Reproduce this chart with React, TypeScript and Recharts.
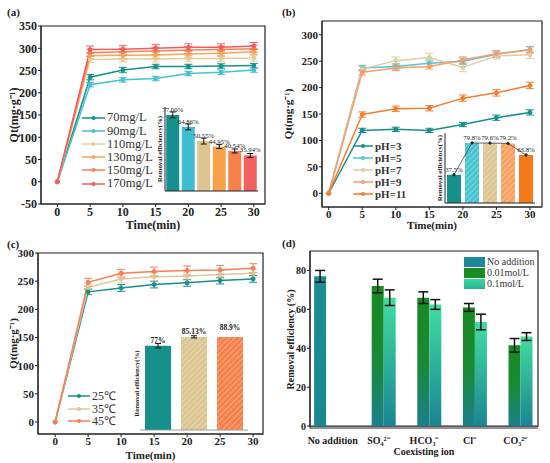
import React from 'react';
import {
  LineChart, Line, XAxis, YAxis, ErrorBar, ReferenceArea,
  BarChart, Bar, ComposedChart, LabelList, Cell,
} from 'recharts';

const FONT = '"Liberation Serif", "Times New Roman", serif';
const INK = '#222';

// shared time axis (min)
const timeMin = [0, 5, 10, 15, 20, 25, 30];
const timeTicks = [0, 5, 10, 15, 20, 25, 30];

// (a) initial concentration
const concNames = ['70mg/L', '90mg/L', '110mg/L', '130mg/L', '150mg/L', '170mg/L'];
const concColors = ['#15918a', '#46c1cf', '#e4cb9b', '#f8a652', '#f78157', '#f25c5e'];
const qt70 = [0, 235, 251, 259, 259, 260, 261];
const qt90 = [0, 218, 229, 232, 243, 246, 251];
const qt110 = [0, 275, 276, 276, 277, 277, 278];
const qt130 = [0, 283, 284, 285, 287, 289, 292];
const qt150 = [0, 290, 292, 294, 296, 297, 299];
const qt170 = [0, 297, 298, 300, 302, 302, 305];
const err70 = [0, 6, 6, 5, 5, 5, 5];
const err90 = [0, 5, 5, 5, 5, 5, 5];
const err110 = [0, 7, 7, 7, 7, 7, 7];
const err130 = [0, 7, 7, 7, 7, 7, 7];
const err150 = [0, 8, 8, 8, 8, 8, 8];
const err170 = [0, 8, 8, 8, 8, 8, 8];
const concRemoval = [77.0, 64.86, 50.55, 44.95, 40.54, 35.94];
const concRemovalErr = [3, 3, 3, 2, 2, 2];
const concRemovalLabels = ['77.00%', '64.86%', '50.55%', '44.95%', '40.54%', '35.94%'];
const concBarColors = ['#16908f', '#3fbdd0', '#dcc591', '#f8a04a', '#f7804a', '#f26060'];

// (b) pH
const phNames = ['pH=3', 'pH=5', 'pH=7', 'pH=9', 'pH=11'];
const phColors = ['#16908a', '#4cc8d0', '#e5ca9c', '#f89c6c', '#f77b2c'];
const qtPh3 = [0, 119, 121, 119, 130, 143, 153];
const qtPh5 = [0, 237, 240, 246, 250, 263, 272];
const qtPh7 = [0, 235, 251, 257, 238, 260, 262];
const qtPh9 = [0, 229, 237, 240, 252, 264, 271];
const qtPh11 = [0, 149, 160, 161, 180, 190, 204];
const errPh3 = [0, 4, 4, 4, 4, 5, 5];
const errPh5 = [0, 5, 5, 6, 6, 6, 6];
const errPh7 = [0, 5, 7, 8, 8, 6, 7];
const errPh9 = [0, 5, 5, 5, 6, 6, 6];
const errPh11 = [0, 5, 5, 5, 6, 6, 6];
const phRemoval = [37.5, 79.8, 79.6, 79.2, 63.8];
const phRemovalLabels = ['37.5%', '79.8%', '79.6%', '79.2%', '63.8%'];
const phBarColors = ['#16908a', '#45c3d3', '#dcc590', '#f8a060', '#f77a1a'];
const phHatched = [false, true, true, true, false];

// (c) temperature
const tempNames = ['25℃', '35℃', '45℃'];
const tempColors = ['#16908a', '#e3c695', '#f77f55'];
const qt25 = [0, 231, 238, 244, 247, 251, 254];
const qt35 = [0, 239, 254, 258, 259, 262, 264];
const qt45 = [0, 248, 264, 267, 269, 270, 273];
const err25 = [0, 5, 6, 6, 6, 6, 6];
const err35 = [0, 6, 7, 7, 7, 7, 7];
const err45 = [0, 7, 7, 8, 8, 8, 8];
const tempRemoval = [77, 85.13, 88.9];
const tempRemovalErr = [2, 1, 0];
const tempRemovalLabels = ['77%', '85.13%', '88.9%'];
const tempBarColors = ['#16908a', '#dcc590', '#f77f4a'];
const tempHatched = [false, true, true];

// (d) coexisting ions
const ionNames = ['No addition', 'SO₄²⁻', 'HCO₃⁻', 'Cl⁻', 'CO₃²⁻'];
const dosageNames = ['No addition', '0.01mol/L', '0.1mol/L'];
const noAddition = [77, null, null, null, null];
const dose001 = [0, 72, 66, 61, 41.5];
const dose01 = [null, 66, 62.5, 53.5, 46];
const errNoAddition = [3, null, null, null, null];
const errDose001 = [1, 3.5, 3, 2, 3.5];
const errDose01 = [null, 4, 2.5, 4, 2];

const buildRows = (series: number[][], errors: number[][]) =>
  timeMin.map((t, i) => {
    const row: Record<string, number> = { t };
    series.forEach((s, k) => {
      row['s' + k] = s[i];
      row['e' + k] = errors[k][i];
    });
    return row;
  });

const concRows = buildRows([qt70, qt90, qt110, qt130, qt150, qt170], [err70, err90, err110, err130, err150, err170]);
const phRows = buildRows([qtPh3, qtPh5, qtPh7, qtPh9, qtPh11], [errPh3, errPh5, errPh7, errPh9, errPh11]);
const tempRows = buildRows([qt25, qt35, qt45], [err25, err35, err45]);

const ionRows = ionNames.map((ion, i) => ({
  ion,
  a: noAddition[i], b: dose001[i], c: dose01[i],
  ea: errNoAddition[i], eb: errDose001[i], ec: errDose01[i],
}));

const tickStyle = (size: number) => ({ fill: INK, fontSize: size, fontWeight: 700, fontFamily: FONT });
const titleStyle = (size: number) => ({ textAnchor: 'middle' as const, fill: INK, fontSize: size, fontWeight: 700, fontFamily: FONT });

function KineticsChart(props: any) {
  const { width, height, top, right, yWidth, xHeight, xDomain, yDomain, yTicks, rows, colors, yOffset, xOffset, fontSize } = props;
  return (
    <LineChart width={width} height={height} data={rows} margin={{ top, right, left: 0, bottom: 0 }}>
      <ReferenceArea y1={yDomain[0]} y2={yDomain[1]} fill="none" stroke={INK} strokeWidth={1.2} ifOverflow="visible" />
      <XAxis
        type="number" dataKey="t" domain={xDomain} ticks={timeTicks} allowDataOverflow
        height={xHeight} tickSize={3} tickMargin={0} stroke={INK} tick={tickStyle(fontSize)}
        label={{ value: 'Time(min)', position: 'insideBottom', offset: xOffset, style: titleStyle(fontSize) }}
      />
      <YAxis
        type="number" domain={yDomain} ticks={yTicks} allowDataOverflow
        width={yWidth} tickSize={3} tickMargin={1} stroke={INK} tick={tickStyle(fontSize)}
        label={{ value: 'Qt(mg·g⁻¹)', angle: -90, position: 'insideLeft', offset: yOffset, style: titleStyle(fontSize) }}
      />
      {colors.map((c: string, k: number) => (
        <Line
          key={k} dataKey={'s' + k} stroke={c} strokeWidth={1.5}
          dot={{ r: 2, fill: c, stroke: c, strokeWidth: 1 }} isAnimationActive={false}
        >
          <ErrorBar dataKey={'e' + k} direction="y" width={4} stroke={c} strokeWidth={1} />
        </Line>
      ))}
    </LineChart>
  );
}

function Hatches({ prefix, colors }: { prefix: string; colors: string[] }) {
  return (
    <defs>
      {colors.map((c, i) => (
        <pattern key={i} id={prefix + i} patternUnits="userSpaceOnUse" width="4" height="4" patternTransform="rotate(45)">
          <rect width="4" height="4" fill={c} />
          <line x1="0" y1="0" x2="0" y2="4" stroke="rgba(255,255,255,0.45)" strokeWidth="1.4" />
        </pattern>
      ))}
    </defs>
  );
}

function LineLegend({ names, colors, left, top, gap, fontSize, bold, lineW }: any) {
  return (
    <div style={{ position: 'absolute', left, top, fontFamily: FONT }}>
      {names.map((n: string, i: number) => (
        <div key={n} style={{ display: 'flex', alignItems: 'center', height: gap }}>
          <svg width={lineW} height={8}>
            <line x1={0} y1={4} x2={lineW} y2={4} stroke={colors[i]} strokeWidth={1.5} />
            <circle cx={lineW / 2} cy={4} r={2} fill={colors[i]} />
          </svg>
          <span style={{ marginLeft: 2, fontSize, fontWeight: bold ? 700 : 400, color: '#333', lineHeight: 1 }}>{n}</span>
        </div>
      ))}
    </div>
  );
}

const panelLabel = (text: string, left: number, top: number) => (
  <div style={{ position: 'absolute', left, top, fontFamily: FONT, fontWeight: 700, fontSize: 11, color: INK }}>{text}</div>
);

const insetLabel = (offset: number) => ({
  value: 'Removal efficiency(%)', angle: -90, position: 'insideLeft', offset, style: { ...titleStyle(6.8) },
});
const insetValueStyle = { fontSize: 6.8, fontFamily: FONT, fill: INK };

export default function App() {
  const concInset = concNames.map((name, i) => ({ name, v: concRemoval[i], e: concRemovalErr[i], label: concRemovalLabels[i] }));
  const phInset = phNames.map((name, i) => ({ name, v: phRemoval[i], label: phRemovalLabels[i] }));
  const tempInset = tempNames.map((name, i) => ({ name, v: tempRemoval[i], e: tempRemovalErr[i], label: tempRemovalLabels[i] }));

  return (
    <div style={{ position: 'absolute', left: 0, top: 0, width: 550, height: 463, background: '#fff', fontFamily: FONT }}>
      {/* (a) */}
      <div style={{ position: 'absolute', left: 0, top: 0 }}>
        <KineticsChart
          width={275} height={232} top={26} right={10} yWidth={41} xHeight={28}
          xDomain={[-2.5, 31.7]} yDomain={[-50, 350]} yTicks={[-50, 0, 50, 100, 150, 200, 250, 300, 350]}
          rows={concRows} colors={concColors} yOffset={14} xOffset={3} fontSize={12}
        />
      </div>
      <div style={{ position: 'absolute', left: 150, top: 95 }}>
        <BarChart width={112} height={100} data={concInset} margin={{ top: 12, right: 4, left: 0, bottom: 0 }} barCategoryGap="8%">
          <XAxis dataKey="name" tick={false} tickLine={false} height={4} stroke={INK} />
          <YAxis domain={[0, 85]} tick={false} tickLine={false} width={15} stroke={INK} label={insetLabel(10)} />
          <Bar dataKey="v" isAnimationActive={false}>
            {concInset.map((d, i) => <Cell key={d.name} fill={concBarColors[i]} />)}
            <ErrorBar dataKey="e" width={3} stroke="#111" strokeWidth={1} />
            <LabelList dataKey="label" position="top" offset={3} style={insetValueStyle} />
          </Bar>
        </BarChart>
      </div>
      <LineLegend names={concNames} colors={concColors} left={82} top={111} gap={13.2} fontSize={12.5} bold={false} lineW={23} />

      {/* (b) */}
      <div style={{ position: 'absolute', left: 275, top: 0 }}>
        <KineticsChart
          width={275} height={232} top={21} right={8} yWidth={47} xHeight={25}
          xDomain={[-1, 31.8]} yDomain={[-26, 326]} yTicks={[0, 50, 100, 150, 200, 250, 300]}
          rows={phRows} colors={phColors} yOffset={13} xOffset={3} fontSize={11}
        />
      </div>
      <div style={{ position: 'absolute', left: 430, top: 125 }}>
        <ComposedChart width={110} height={82} data={phInset} margin={{ top: 8, right: 5, left: 0, bottom: 0 }} barCategoryGap="11%">
          <Hatches prefix="hatchPh" colors={phBarColors} />
          <XAxis dataKey="name" tick={false} tickSize={2} height={4} stroke={INK} />
          <YAxis domain={[0, 93]} tick={false} tickLine={false} width={15} stroke={INK} label={insetLabel(10)} />
          <Bar dataKey="v" isAnimationActive={false}>
            {phInset.map((d, i) => <Cell key={d.name} fill={phHatched[i] ? `url(#hatchPh${i})` : phBarColors[i]} />)}
            <LabelList dataKey="label" position="top" offset={3} style={insetValueStyle} />
          </Bar>
          <Line dataKey="v" stroke="#444" strokeWidth={0.8} dot={{ r: 1.2, fill: '#222', stroke: '#222' }} isAnimationActive={false} />
        </ComposedChart>
      </div>
      <LineLegend names={phNames} colors={phColors} left={353} top={140} gap={12} fontSize={11} bold lineW={20} />

      {/* (c) */}
      <div style={{ position: 'absolute', left: 0, top: 230 }}>
        <KineticsChart
          width={275} height={233} top={23} right={12} yWidth={38} xHeight={29}
          xDomain={[-2.6, 31.5]} yDomain={[-21.3, 300]} yTicks={[0, 50, 100, 150, 200, 250, 300]}
          rows={tempRows} colors={tempColors} yOffset={13} xOffset={4} fontSize={11}
        />
      </div>
      <div style={{ position: 'absolute', left: 125, top: 317 }}>
        <BarChart width={125} height={117} data={tempInset} margin={{ top: 20, right: 2, left: 0, bottom: 0 }} barCategoryGap="14%">
          <Hatches prefix="hatchT" colors={tempBarColors} />
          <XAxis dataKey="name" tick={false} tickLine={false} height={4} stroke="#999" />
          <YAxis domain={[0, 85]} allowDataOverflow tick={false} tickLine={false} width={15} axisLine={false} label={insetLabel(12)} />
          <Bar dataKey="v" isAnimationActive={false}>
            {tempInset.map((d, i) => <Cell key={d.name} fill={tempHatched[i] ? `url(#hatchT${i})` : tempBarColors[i]} />)}
            <ErrorBar dataKey="e" width={3} stroke="#111" strokeWidth={1} />
            <LabelList dataKey="label" position="top" offset={3} style={{ fontSize: 7.5, fontWeight: 700, fontFamily: FONT, fill: INK }} />
          </Bar>
        </BarChart>
      </div>
      <LineLegend names={tempNames} colors={tempColors} left={68} top={389.5} gap={12.7} fontSize={12} bold={false} lineW={22} />

      {/* (d) */}
      <div style={{ position: 'absolute', left: 275, top: 230 }}>
        <BarChart width={275} height={233} data={ionRows} margin={{ top: 21, right: 12, left: 0, bottom: 0 }} barCategoryGap="9%" barGap={0}>
          <defs>
            <linearGradient id="gNoAdd" x1="0" y1="0" x2="0" y2="1">
              <stop offset="0%" stopColor="#1c8e93" />
              <stop offset="100%" stopColor="#1a8790" />
            </linearGradient>
            <linearGradient id="gDose001" x1="0" y1="0" x2="0" y2="1">
              <stop offset="0%" stopColor="#178a22" />
              <stop offset="50%" stopColor="#198a34" />
              <stop offset="100%" stopColor="#1a7f8c" />
            </linearGradient>
            <linearGradient id="gDose01" x1="0" y1="0" x2="0" y2="1">
              <stop offset="0%" stopColor="#40dda0" />
              <stop offset="100%" stopColor="#1b8592" />
            </linearGradient>
          </defs>
          <ReferenceArea y1={0} y2={90} fill="none" stroke={INK} strokeWidth={1.2} ifOverflow="visible" />
          <XAxis
            dataKey="ion" height={35} tickLine={false} tickMargin={3} stroke={INK} interval={0} tick={tickStyle(10)}
            label={{ value: 'Coexisting ion', position: 'insideBottom', offset: 8, style: titleStyle(10) }}
          />
          <YAxis
            domain={[0, 90]} ticks={[0, 20, 40, 60, 80]} width={35} tickSize={3} tickMargin={1} stroke={INK} tick={tickStyle(10)}
            label={{ value: 'Removal efficiency (%)', angle: -90, position: 'insideLeft', offset: 15, style: titleStyle(10) }}
          />
          <Bar dataKey="a" fill="url(#gNoAdd)" isAnimationActive={false}>
            <ErrorBar dataKey="ea" width={5} stroke="#111" strokeWidth={1.5} />
          </Bar>
          <Bar dataKey="b" fill="url(#gDose001)" isAnimationActive={false}>
            <ErrorBar dataKey="eb" width={5} stroke="#111" strokeWidth={1.5} />
          </Bar>
          <Bar dataKey="c" fill="url(#gDose01)" isAnimationActive={false}>
            <ErrorBar dataKey="ec" width={5} stroke="#111" strokeWidth={1.5} />
          </Bar>
        </BarChart>
      </div>
      <div style={{ position: 'absolute', left: 464, top: 256.5, fontFamily: FONT }}>
        {dosageNames.map((n, i) => (
          <div key={n} style={{ display: 'flex', alignItems: 'center', height: 11 }}>
            <div style={{ width: 21, height: 10, background: ['#1b8a95', '#1a8c24', 'linear-gradient(#3ad8a0, #26b497)'][i] }} />
            <span style={{ marginLeft: 2, fontSize: 10, color: '#333', lineHeight: 1 }}>{n}</span>
          </div>
        ))}
      </div>

      {panelLabel('(a)', 7, 6)}
      {panelLabel('(b)', 282, 6)}
      {panelLabel('(c)', 7, 238)}
      {panelLabel('(d)', 282, 237)}
    </div>
  );
}
